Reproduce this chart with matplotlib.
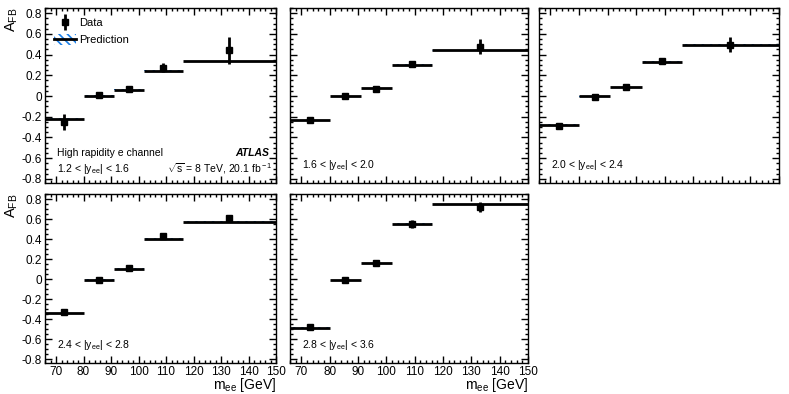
import matplotlib
matplotlib.use("Agg")
import matplotlib.pyplot as plt
import numpy as np
from matplotlib.patches import Patch
from matplotlib.lines import Line2D
from matplotlib.ticker import MultipleLocator

plt.rcParams['font.family'] = ['Liberation Sans', 'DejaVu Sans']
plt.rcParams['hatch.linewidth'] = 1.2
plt.rcParams['mathtext.fontset'] = 'custom'
plt.rcParams['mathtext.rm'] = 'Liberation Sans'
plt.rcParams['mathtext.it'] = 'Liberation Sans'

# mass bins (GeV)
bin_edges = [66, 80, 91, 102, 116, 150]
bin_centers = [73, 85.5, 96.5, 109, 133]

rapidity_labels = [r"1.2 < |y$_{\rm ee}$| < 1.6", r"1.6 < |y$_{\rm ee}$| < 2.0",
                   r"2.0 < |y$_{\rm ee}$| < 2.4", r"2.4 < |y$_{\rm ee}$| < 2.8",
                   r"2.8 < |y$_{\rm ee}$| < 3.6"]

data_1 = [-0.25, 0.007, 0.067, 0.275, 0.44]
err_1 = [0.078, 0.015, 0.015, 0.045, 0.13]
pred_1 = [-0.224, 0.0, 0.062, 0.238, 0.336]
band_1 = [0.012, 0.006, 0.006, 0.010, 0.006]

data_2 = [-0.233, 0.0, 0.071, 0.31, 0.477]
err_2 = [0.012, 0.01, 0.012, 0.015, 0.075]
pred_2 = [-0.233, 0.0, 0.077, 0.302, 0.44]
band_2 = [0.005, 0.004, 0.004, 0.005, 0.005]

data_3 = [-0.288, -0.01, 0.083, 0.34, 0.496]
err_3 = [0.012, 0.01, 0.012, 0.015, 0.075]
pred_3 = [-0.278, -0.003, 0.086, 0.333, 0.496]
band_3 = [0.005, 0.004, 0.004, 0.005, 0.005]

data_4 = [-0.328, -0.006, 0.108, 0.43, 0.61]
err_4 = [0.012, 0.01, 0.012, 0.015, 0.03]
pred_4 = [-0.343, -0.006, 0.105, 0.403, 0.572]
band_4 = [0.005, 0.004, 0.004, 0.005, 0.005]

data_5 = [-0.477, -0.01, 0.156, 0.555, 0.72]
err_5 = [0.012, 0.01, 0.012, 0.04, 0.054]
pred_5 = [-0.485, -0.01, 0.156, 0.555, 0.75]
band_5 = [0.005, 0.004, 0.004, 0.005, 0.005]

datas = [data_1, data_2, data_3, data_4, data_5]
errs = [err_1, err_2, err_3, err_4, err_5]
preds = [pred_1, pred_2, pred_3, pred_4, pred_5]
bands = [band_1, band_2, band_3, band_4, band_5]

W, H = 789, 394
fig = plt.figure(figsize=(W / 100, H / 100), dpi=100)

def box(x0, x1, ytop, ybot):
    return [x0 / W, 1 - ybot / H, (x1 - x0) / W, (ybot - ytop) / H]

positions = [box(45, 276, 8, 183), box(290, 528, 8, 183), box(539, 779, 8, 183),
             box(45, 276, 194, 363), box(290, 528, 194, 363)]

hatch_color = '#1a7fe8'
fs = 7.5

axes = []
for i in range(5):
    ax = fig.add_axes(positions[i])
    axes.append(ax)
    ax.set_xlim(66, 150)
    ax.set_ylim(-0.84, 0.85)
    # prediction band and line
    for j in range(5):
        x0, x1 = bin_edges[j], bin_edges[j + 1]
        p, b = preds[i][j], bands[i][j]
        ax.fill_between([x0, x1], [p - b, p - b], [p + b, p + b], facecolor='none',
                        edgecolor=hatch_color, hatch='\\\\\\\\', linewidth=0, zorder=2)
        ax.plot([x0, x1], [p, p], color='black', lw=2.0, zorder=3, solid_capstyle='butt')
    ax.errorbar(bin_centers, datas[i], yerr=errs[i], fmt='s', color='black', ms=5,
                elinewidth=2, capsize=0, zorder=4)
    ax.xaxis.set_major_locator(MultipleLocator(10))
    ax.xaxis.set_minor_locator(MultipleLocator(2))
    ax.yaxis.set_major_locator(MultipleLocator(0.2))
    ax.yaxis.set_minor_locator(MultipleLocator(0.05))
    ax.tick_params(which='both', direction='in', top=True, right=True, labelsize=8.5,
                   pad=2, width=1)
    ax.tick_params(which='major', length=5)
    ax.tick_params(which='minor', length=2.5)
    for s in ax.spines.values():
        s.set_linewidth(1.0)
    yt = np.round(np.arange(-0.8, 0.81, 0.2), 1)
    ax.set_yticks(yt)
    ax.set_yticklabels(['0' if abs(v) < 1e-9 else f"{v:g}" for v in yt])
    if i not in (0, 3):
        ax.tick_params(labelleft=False)
    if i < 3:
        ax.tick_params(labelbottom=False)
    else:
        ax.set_xticks(np.arange(70, 151, 10))
        ax.set_xlabel(r"m$_{\rm ee}$ [GeV]", fontsize=10, loc='right', labelpad=-1)
    if i in (0, 3):
        ax.set_ylabel(r"A$_{\rm FB}$", fontsize=10.5, loc='top', labelpad=1)
    if i == 0:
        ax.text(0.05, 0.155, "High rapidity e channel", transform=ax.transAxes,
                fontsize=fs, ha='left', va='baseline')
        ax.text(0.05, 0.06, rapidity_labels[i], transform=ax.transAxes,
                fontsize=fs, ha='left', va='baseline')
        ax.text(0.97, 0.155, "ATLAS", transform=ax.transAxes, fontsize=fs,
                fontweight='bold', fontstyle='italic', ha='right', va='baseline')
        ax.text(0.985, 0.06, r"$\sqrt{s}$ = 8 TeV, 20.1 fb$^{\rm -1}$",
                transform=ax.transAxes, fontsize=fs, ha='right', va='baseline')
        h_data = Line2D([], [], marker='s', color='black', ms=5, lw=0)
        h_err = Line2D([], [], marker='|', color='black', ms=12, mew=2, lw=0)
        h_band = Patch(facecolor='none', edgecolor=hatch_color, hatch='\\\\\\\\', lw=0)
        h_line = Line2D([], [], color='black', lw=2)
        ax.legend([(h_err, h_data), (h_band, h_line)], ["Data", "Prediction"],
                  loc='upper left', bbox_to_anchor=(0.0, 1.0), frameon=False,
                  fontsize=8, handlelength=2.0, handleheight=1.2,
                  handletextpad=0.3, labelspacing=0.5, borderaxespad=0.4)
    else:
        ax.text(0.05, 0.085 if i in (1, 2) else 0.09, rapidity_labels[i],
                transform=ax.transAxes, fontsize=fs, ha='left', va='baseline')

fig.savefig("out.png", dpi=100)
